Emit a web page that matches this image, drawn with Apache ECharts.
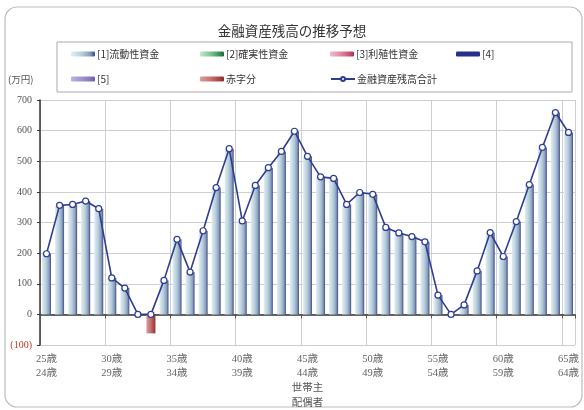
<!DOCTYPE html>
<html>
<head>
<meta charset="utf-8">
<script src="https://cdn.jsdelivr.net/npm/echarts@6/dist/echarts.min.js"></script>
<style>
html,body{margin:0;padding:0;background:#fff;}
#chart{width:584px;height:410px;}
</style>
</head>
<body>
<div id="chart"></div>
<script>
// ---- data ----
const ownerAges  = [25,26,27,28,29,30,31,32,33,34,35,36,37,38,39,40,41,42,43,44,45,46,47,48,49,50,51,52,53,54,55,56,57,58,59,60,61,62,63,64,65];
const spouseAges = [24,25,26,27,28,29,30,31,32,33,34,35,36,37,38,39,40,41,42,43,44,45,46,47,48,49,50,51,52,53,54,55,56,57,58,59,60,61,62,63,64];
const liquidFunds = [198,356,359,370,345,119,86,0,0,111,245,138,273,414,541,305,421,479,532,598,516,449,444,359,398,392,284,266,254,237,63,0,31,142,267,189,303,424,545,659,594];
const deficit = [null,null,null,null,null,null,null,null,-62,null,null,null,null,null,null,null,null,null,null,null,null,null,null,null,null,null,null,null,null,null,null,null,null,null,null,null,null,null,null,null,null];
const totalAssets = [198,356,359,370,345,119,86,0,0,111,245,138,273,414,541,305,421,479,532,598,516,449,444,359,398,392,284,266,254,237,63,0,31,142,267,189,303,424,545,659,594];
const yTicks = {min:-100, max:700, interval:100};
const names = ['[1]流動性資金','[2]確実性資金','[3]利殖性資金','[4]','[5]','赤字分','金融資産残高合計'];

const categories = ownerAges.map((a,i)=>a+'歳\n'+spouseAges[i]+'歳');

const serif = "'Liberation Serif','Noto Sans CJK JP',serif";
const cjk = "'Noto Sans CJK JP','Liberation Serif',sans-serif";
function grad(c0,c1,c2,c3){
  return new echarts.graphic.LinearGradient(0,0,1,0,[
    {offset:0,color:c0},{offset:0.45,color:c1},{offset:0.78,color:c2},{offset:1,color:c3}]);
}
const lineColor = '#2f3d8f';

const chart = echarts.init(document.getElementById('chart'), null, {renderer:'canvas'});
function leg(name, left, top){
  return {data:[name], left:left, top:top, padding:0, itemWidth:24, itemHeight:5, itemGap:0,
    textStyle:{fontSize:10, color:'#333', fontFamily:cjk, padding:[0,0,0,-3]}};
}
const option = {
  animation:false,
  backgroundColor:'#fff',
  title:{text:'金融資産残高の推移予想', left:'center', top:19,
    textStyle:{fontSize:13.5, fontWeight:'normal', color:'#333', fontFamily:cjk}},
  graphic:[
    {type:'rect', shape:{x:5,y:7,width:577,height:400,r:12}, style:{fill:'none',stroke:'#bdbdbd',lineWidth:1.2}, z:-1},
    {type:'rect', shape:{x:57,y:42,width:515,height:50}, style:{fill:'none',stroke:'#aaa',lineWidth:1}, z:-1},
    {type:'text', left:8, top:75, style:{text:'(万円)', fill:'#555', font:"9.5px 'Noto Sans CJK JP'"}}
  ],
  legend:[
    leg(names[0],71,49), leg(names[1],200,49), leg(names[2],330,49), leg(names[3],456,49),
    leg(names[4],71,74), leg(names[5],200,74), leg(names[6],330,74)
  ],
  grid:{left:40, right:9, top:100, bottom:65, containLabel:false, outerBoundsMode:'none'},
  xAxis:[
    {type:'category', data:categories, boundaryGap:true,
     axisLine:{show:false, onZero:false}, axisTick:{show:false},
     axisLabel:{interval:4, fontSize:10.5, color:'#666', fontFamily:serif, lineHeight:14, margin:7},
     splitLine:{show:true, interval:4, lineStyle:{color:'#cfcfcf', width:1}},
     name:'世帯主\n配偶者', nameLocation:'middle', nameGap:35, nameMoveOverlap:false,
     nameTextStyle:{fontSize:10.5, color:'#555', fontFamily:cjk, lineHeight:15}},
    {type:'category', data:categories, boundaryGap:true, position:'bottom',
     axisLine:{show:true, onZero:true, lineStyle:{color:'#333', width:1.5}},
     axisTick:{show:true, interval:4, length:4, lineStyle:{color:'#555'}},
     axisLabel:{show:false}, splitLine:{show:false}}
  ],
  yAxis:{type:'value', min:yTicks.min, max:yTicks.max, interval:yTicks.interval,
    axisLine:{show:true, lineStyle:{color:'#333', width:1.5}},
    axisTick:{show:true, length:3, lineStyle:{color:'#333'}},
    splitLine:{lineStyle:{color:'#cfcfcf', width:1}},
    axisLabel:{fontSize:10, color:'#555', fontFamily:serif, margin:8,
      formatter:function(v){ return v<0 ? '{neg|('+(-v)+')}' : String(v); },
      rich:{neg:{color:'#c0392b', fontSize:10, fontFamily:serif}}}},
  series:[
    {name:names[0], type:'bar', stack:'a', data:liquidFunds, barWidth:9,
     itemStyle:{color:grad('#e3edf2','#b6cedb','#8aa0bd','#3e4986')}},
    {name:names[1], type:'bar', stack:'a', data:[], barWidth:9,
     itemStyle:{color:grad('#c4e6cc','#7cc690','#3a9a5a','#1d6b38')}},
    {name:names[2], type:'bar', stack:'a', data:[], barWidth:9,
     itemStyle:{color:grad('#f0bccb','#e088a2','#cc5578','#a33555')}},
    {name:names[3], type:'bar', stack:'a', data:[], barWidth:9,
     itemStyle:{color:'#23318a'}},
    {name:names[4], type:'bar', stack:'a', data:[], barWidth:9,
     itemStyle:{color:grad('#bfb3e0','#a093d0','#8a78c0','#6f5ea8')}},
    {name:names[5], type:'bar', stack:'a', data:deficit, barWidth:9,
     itemStyle:{color:grad('#dc9c9c','#c47272','#a84a4a','#8a2c2c')}},
    {name:names[6], type:'line', data:totalAssets, z:5,
     lineStyle:{color:lineColor, width:1.6},
     symbol:'circle', symbolSize:6,
     itemStyle:{color:'#fff', borderColor:lineColor, borderWidth:1.2}}
  ]
};
chart.setOption(option);
</script>
</body>
</html>
